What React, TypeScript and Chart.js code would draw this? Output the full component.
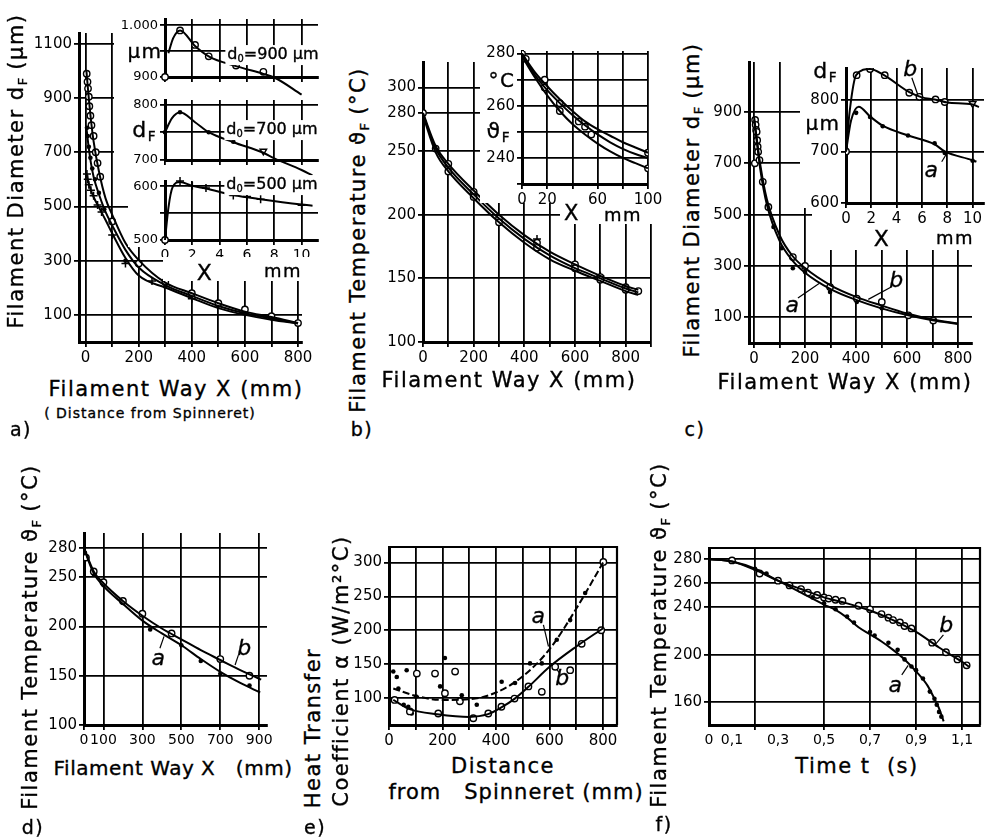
import React, { useEffect, useRef } from 'react';
import { Chart, registerables } from 'chart.js';

Chart.register(...registerables);

type P = [number, number];
const FONT = '"DejaVu Sans", "Liberation Sans", sans-serif';

/* ================= DATA ================= */
/* a) main: filament diameter vs way */
const aGridX = [0, 100, 200, 300, 400, 500, 600, 700, 800];
const aLabelX = [0, 200, 400, 600, 800];
const aGridY = [100, 300, 500, 700, 900, 1100];
const aLabelY = [100, 300, 500, 700, 900, 1100];
const aCurve900: P[] = [[3, 1000], [10, 920], [20, 820], [30, 740], [50, 630], [75, 530], [100, 470], [150, 365], [200, 302], [300, 219], [400, 180], [500, 143], [600, 112], [700, 92], [800, 70]];
const aCurve700: P[] = [[3, 790], [10, 730], [20, 660], [30, 610], [50, 545], [75, 480], [100, 430], [150, 340], [200, 275], [300, 210], [400, 170], [500, 133], [600, 106], [700, 87], [800, 69]];
const aCurve500: P[] = [[3, 620], [10, 590], [20, 560], [30, 535], [50, 497], [75, 450], [100, 401], [150, 310], [200, 245], [300, 201], [400, 162], [500, 125], [600, 100], [700, 82], [800, 68]];
const aPts900: P[] = [[4, 990], [7, 960], [9, 935], [12, 905], [14, 870], [18, 835], [22, 800], [30, 760], [38, 700], [45, 660], [55, 610], [100, 445], [200, 290], [300, 222], [400, 180], [500, 143], [600, 120], [700, 95], [800, 70]];
const aPts700: P[] = [[5, 790], [8, 760], [12, 720], [18, 680], [25, 640], [35, 600], [50, 550], [70, 490], [150, 300], [300, 205], [500, 135], [700, 88]];
const aPts500: P[] = [[5, 620], [8, 600], [12, 580], [20, 560], [30, 540], [45, 505], [60, 480], [100, 395], [150, 290], [250, 225], [400, 160], [600, 105]];

/* a) inset: three sub-plots, X in mm */
const aiGridX = [0, 2, 4, 6, 8, 10];
const aiLabelX = [0, 2, 4, 6, 8, 10];
const ai900Grid = [900, 950, 1000];
const ai900Label = [900, 1000];
const ai900Curve: P[] = [[0.25, 946], [0.6, 975], [1.1, 990], [2.2, 960], [3.2, 940], [5.2, 921], [7.2, 906], [8, 899], [10, 866]];
const ai900Pts: P[] = [[0, 900], [1.1, 990], [2.2, 962], [3.2, 940], [5.2, 922], [7.2, 910]];
const ai900Tri: P[] = [[10, 866]];
const ai700Grid = [700, 750, 800];
const ai700Label = [700, 800];
const ai700Curve: P[] = [[0, 750], [0.5, 775], [1.1, 786], [2.2, 768], [3.2, 750], [5, 732], [7.2, 713], [8, 703], [10, 682], [10.8, 672]];
const ai700Pts: P[] = [[0, 750], [1.1, 786], [3.2, 750], [5, 733], [10, 680]];
const ai700Tri: P[] = [[7.2, 716]];
const ai500Grid = [500, 550, 600];
const ai500Label = [500, 600];
const ai500Curve: P[] = [[0, 500], [0.25, 560], [0.55, 598], [1.1, 608], [2, 601], [3, 596], [5, 584], [7, 576], [10, 566], [10.8, 564]];
const ai500Pts: P[] = [[1.1, 610], [2, 601], [3, 597], [5, 583], [6, 581], [7, 576], [10, 565]];
const ai500Open: P[] = [[0, 500]];

/* b) main: filament temperature vs way */
const bGridX = [0, 100, 200, 300, 400, 500, 600, 700, 800, 900];
const bLabelX = [0, 200, 400, 600, 800];
const bGridY = [100, 150, 200, 250, 280, 300];
const bLabelY = [100, 150, 200, 250, 280, 300];
const bCurveU: P[] = [[0, 280], [50, 254], [100, 240], [200, 219], [300, 200], [400, 184], [500, 171], [600, 161], [700, 152], [800, 144], [850, 141]];
const bCurveM: P[] = [[0, 279], [50, 252], [100, 237], [200, 216], [300, 197], [400, 181], [500, 168], [600, 158], [700, 150], [800, 142], [850, 139]];
const bCurveL: P[] = [[0, 278], [50, 249], [100, 234], [200, 213], [300, 194], [400, 178], [500, 165], [600, 156], [700, 148], [800, 140], [850, 137]];
const bPts: P[] = [[0, 280], [50, 252], [100, 240], [100, 234], [200, 218], [200, 214], [300, 197], [300, 194], [450, 178], [450, 174], [600, 161], [600, 158], [700, 151], [700, 149], [800, 143], [800, 141], [850, 140]];
const bPlus: P[] = [[450, 181], [700, 152]];

/* b) inset */
const biGridX = [0, 20, 40, 60, 80, 100];
const biLabelX = [0, 20, 60, 100];
const biGridY = [230, 240, 250, 260, 270, 280];
const biLabelY = [240, 260, 280];
const biCurveU: P[] = [[0, 280], [10, 273], [20, 267.5], [30, 262.5], [40, 258], [50, 254], [60, 251], [70, 248.5], [80, 246], [90, 244], [100, 242]];
const biCurveM: P[] = [[0, 280], [10, 272], [20, 266], [30, 261], [40, 256.5], [50, 252.5], [60, 249], [70, 246], [80, 243.5], [90, 241.5], [100, 240]];
const biCurveL: P[] = [[0, 279], [10, 271], [20, 264], [30, 258], [40, 253], [50, 249], [60, 245.5], [70, 242.5], [80, 240], [90, 238], [100, 236]];
const biPts: P[] = [[0, 280], [3, 278], [18, 270], [18, 267], [30, 261], [30, 258], [45, 254], [50, 252], [55, 249], [100, 242], [100, 236]];

/* c) main */
const cGridX = [0, 100, 200, 300, 400, 500, 600, 700, 800];
const cLabelX = [0, 200, 400, 600, 800];
const cGridY = [100, 300, 500, 700, 900];
const cLabelY = [100, 300, 500, 700, 900];
const cCurveB: P[] = [[0, 880], [5, 840], [10, 800], [25, 690], [50, 560], [100, 420], [150, 340], [200, 292], [300, 225], [400, 180], [500, 146], [600, 115], [700, 92], [800, 76]];
const cCurveA: P[] = [[0, 870], [5, 830], [10, 790], [25, 672], [50, 540], [100, 398], [150, 322], [200, 274], [300, 210], [400, 168], [500, 135], [600, 109], [700, 89], [800, 74]];
const cPtsB: P[] = [[3, 700], [4, 869], [6, 850], [8, 830], [10, 823], [12, 790], [14, 765], [16, 745], [21, 713], [34, 628], [56, 530], [152, 335], [200, 300], [298, 218], [403, 173], [501, 160], [605, 108], [703, 88]];
const cPtsA: P[] = [[76, 452], [108, 369], [152, 291], [200, 277], [298, 199], [403, 160], [501, 135]];
const cLeaderA: P[] = [[172, 175], [255, 232]];
const cLeaderB: P[] = [[540, 219], [448, 170]];

/* c) inset */
const ciGridX = [0, 2, 4, 6, 8, 10];
const ciLabelX = [0, 2, 4, 6, 8, 10];
const ciGridY = [600, 700, 800];
const ciLabelY = [600, 700, 800];
const ciCurveB: P[] = [[0, 700], [0.3, 780], [0.8, 848], [1.9, 860], [3, 848], [5, 815], [6, 805], [7, 801], [8, 795], [10, 791], [10.5, 786]];
const ciCurveA: P[] = [[0, 700], [0.4, 760], [1, 787], [1.9, 768], [2.9, 750], [4.9, 731], [7, 714], [7.8, 700], [10, 683], [10.3, 680]];
const ciPtsB: P[] = [[0.84, 848], [1.9, 860], [3.06, 848], [5, 814], [5.8, 806], [7.07, 801], [7.8, 796]];
const ciTriB: P[] = [[10, 793]];
const ciPtsA: P[] = [[0.8, 775], [1.9, 767], [2.9, 749], [4.9, 731], [7, 716], [7.8, 697], [10, 682]];
const ciOpen: P[] = [[0, 700]];
const ciLeaderB: P[] = [[5.2, 843], [5.67, 810]];
const ciLeaderA: P[] = [[7.56, 680], [8.03, 699]];

/* d) */
const dGridX = [0, 100, 300, 500, 700, 900];
const dLabelX = [0, 100, 300, 500, 700, 900];
const dGridY = [100, 150, 200, 250, 280];
const dLabelY = [100, 150, 200, 250, 280];
const dCurveB: P[] = [[0, 280], [50, 256], [100, 244], [200, 226], [300, 211], [400, 198], [500, 187], [600, 176], [700, 166], [800, 156], [910, 146]];
const dCurveA: P[] = [[0, 279], [50, 254], [100, 241], [200, 223], [300, 206], [400, 193], [500, 181], [600, 167], [700, 154], [800, 143], [905, 133]];
const dPtsB: P[] = [[10, 270], [50, 256], [100, 245], [200, 226], [300, 213], [450, 193], [700, 167], [850, 150]];
const dPtsA: P[] = [[5, 275], [50, 253], [100, 242], [200, 224], [340, 197], [500, 181], [600, 165], [700, 152], [850, 140]];
const dLeaderA: P[] = [[390, 178], [411, 190]];
const dLeaderB: P[] = [[793, 171], [776, 161]];

/* e) heat transfer coefficient */
const eGridX = [0, 100, 200, 300, 400, 500, 600, 700, 800];
const eLabelX = [0, 200, 400, 600, 800];
const eGridY = [100, 150, 200, 250, 300];
const eLabelY = [100, 150, 200, 250, 300];
const eCurveA: P[] = [[16, 114], [100, 103], [200, 97], [300, 98], [400, 108], [500, 132], [600, 172], [700, 232], [800, 300]];
const eCurveB: P[] = [[16, 97], [80, 83], [180, 76], [300, 72], [370, 76], [420, 86], [470, 99], [520, 116], [600, 146], [700, 176], [800, 203]];
const eDotsA: P[] = [[35, 114], [101, 102], [272, 104], [328, 90], [421, 124], [471, 122], [527, 151], [571, 151], [627, 186], [677, 215], [733, 255]];
const eOpenB: P[] = [[21, 97], [78, 80], [184, 77], [265, 95], [315, 70], [371, 77], [420, 87], [469, 99], [521, 117], [621, 146], [720, 180], [793, 200], [677, 141], [571, 109], [801, 301]];
const eScatterDots: P[] = [[16, 139], [29, 131], [66, 141], [209, 159], [191, 117], [72, 87], [85, 77], [55, 90]];
const eScatterOpen: P[] = [[104, 136], [172, 136], [209, 107], [247, 139]];
const eLeaderA: P[] = [[577, 208], [596, 176]];
const eLeaderB: P[] = [[639, 136], [620, 146]];

/* f) temperature vs time */
const fGridX = [0.2, 0.5, 0.7, 0.9, 1.1];
const fLabelX = [0, 0.1, 0.3, 0.5, 0.7, 0.9, 1.1];
const fGridY = [160, 200, 240, 260, 280];
const fLabelY = [160, 200, 240, 260, 280];
const fCurveB: P[] = [[0, 280], [0.1, 278], [0.2, 271], [0.3, 262], [0.4, 255], [0.5, 248], [0.6, 243], [0.7, 237], [0.8, 229], [0.9, 219], [1.0, 206], [1.1, 194], [1.13, 190]];
const fCurveA: P[] = [[0, 280], [0.1, 278], [0.2, 272], [0.3, 262], [0.4, 252], [0.5, 242], [0.55, 237.5], [0.6, 231], [0.65, 223], [0.7, 217], [0.75, 211], [0.8, 204], [0.85, 196], [0.9, 186], [0.95, 174], [0.98, 163], [1.0, 155], [1.02, 144]];
const fPtsB: P[] = [[0.1, 279], [0.22, 268], [0.3, 262], [0.35, 258], [0.4, 255], [0.43, 252], [0.47, 250], [0.5, 248], [0.52, 247], [0.55, 246], [0.58, 245], [0.65, 241], [0.7, 238], [0.75, 234], [0.78, 231], [0.8, 229], [0.83, 227], [0.85, 224], [0.88, 222], [0.97, 210], [1.03, 202], [1.08, 196], [1.12, 191]];
const fPtsA: P[] = [[0.1, 278], [0.2, 272], [0.25, 268], [0.3, 262], [0.45, 248], [0.5, 243], [0.55, 238], [0.6, 232], [0.63, 227], [0.7, 219], [0.72, 216], [0.78, 210], [0.82, 204], [0.85, 196], [0.88, 190], [0.9, 187], [0.93, 180], [0.96, 169], [0.98, 163], [0.99, 158], [1.0, 152], [1.01, 148]];
const fLeaderB: P[] = [[1.019, 216.5], [0.986, 209]];
const fLeaderA: P[] = [[0.838, 183], [0.866, 191]];

/* ================= CHART HELPERS ================= */
type Axis = { min: number; max: number; grid: number[]; labels: number[]; fmt?: (v: number) => string; size?: number };
type Mark = 'open' | 'dot' | 'cross' | 'tri' | 'triDown';
type Layer = { data: P[]; line?: boolean; mark?: Mark; dash?: number[]; width?: number; leader?: boolean };
type Spec = { l: number; t: number; r: number; b: number; yw: number; xh: number; x: Axis; y: Axis; layers: Layer[]; frame?: boolean; noClip?: boolean };

const PAD_T = 12;
const PAD_R = 22;

const framePlugin = {
  id: 'frame',
  afterDatasetsDraw(chart: any, _args: any, opts: any) {
    if (!opts || !opts.on) return;
    const { ctx, chartArea: a } = chart;
    ctx.save();
    ctx.strokeStyle = '#000';
    ctx.lineWidth = 2.2;
    ctx.beginPath();
    ctx.moveTo(a.left, a.top);
    ctx.lineTo(a.right, a.top);
    ctx.lineTo(a.right, a.bottom);
    ctx.stroke();
    ctx.restore();
  },
};

function axisOpts(a: Axis, horizontal: boolean, fixed: number) {
  const gridSet = new Set(a.grid);
  const labSet = new Set(a.labels);
  const vals = Array.from(new Set([...a.grid, ...a.labels])).sort((p, q) => p - q);
  return {
    type: 'linear',
    position: horizontal ? 'bottom' : 'left',
    min: a.min,
    max: a.max,
    afterBuildTicks: (s: any) => {
      s.ticks = vals.map((v) => ({ value: v }));
    },
    afterFit: (s: any) => {
      if (horizontal) s.height = fixed;
      else s.width = fixed;
    },
    grid: {
      color: (c: any) => (c.tick && gridSet.has(c.tick.value) ? '#000' : 'rgba(0,0,0,0)'),
      lineWidth: 1.8,
      tickLength: 5,
      drawTicks: true,
    },
    border: { display: true, color: '#000', width: 3 },
    ticks: {
      color: '#000',
      font: { family: FONT, size: a.size ?? 15 },
      padding: 2,
      autoSkip: false,
      maxRotation: 0,
      minRotation: 0,
      callback: (v: any) => (labSet.has(v) ? (a.fmt ? a.fmt(v) : String(v)) : ''),
    },
  };
}

function layerDataset(l: Layer, noClip?: boolean) {
  const base: any = { data: l.data.map(([x, y]) => ({ x, y })), borderColor: '#000', backgroundColor: '#000' };
  if (noClip) base.clip = false;
  if (l.line || l.leader) {
    return {
      ...base,
      showLine: true,
      borderWidth: l.leader ? 1.2 : l.width ?? 2,
      pointRadius: 0,
      cubicInterpolationMode: l.leader ? 'default' : 'monotone',
      tension: l.leader ? 0 : 0.4,
      borderDash: l.dash ?? [],
    };
  }
  const m = l.mark ?? 'open';
  const mk: any = { showLine: false, pointBorderColor: '#000' };
  if (m === 'open') Object.assign(mk, { pointStyle: 'circle', pointRadius: 3.2, pointBackgroundColor: '#fff', pointBorderWidth: 1.4 });
  if (m === 'dot') Object.assign(mk, { pointStyle: 'circle', pointRadius: 2.3, pointBackgroundColor: '#000', pointBorderWidth: 0 });
  if (m === 'cross') Object.assign(mk, { pointStyle: 'cross', pointRadius: 4, pointBorderWidth: 1.5 });
  if (m === 'tri') Object.assign(mk, { pointStyle: 'triangle', pointRadius: 3.8, pointBackgroundColor: '#fff', pointBorderWidth: 1.4 });
  if (m === 'triDown') Object.assign(mk, { pointStyle: 'triangle', pointRotation: 180, pointRadius: 3.8, pointBackgroundColor: '#fff', pointBorderWidth: 1.4 });
  return { ...base, ...mk };
}

function Plot({ spec }: { spec: Spec }) {
  const ref = useRef<HTMLCanvasElement | null>(null);
  const w = Math.round(spec.r - spec.l + spec.yw + PAD_R);
  const h = Math.round(spec.b - spec.t + PAD_T + spec.xh);
  useEffect(() => {
    const chart = new Chart(ref.current as HTMLCanvasElement, {
      type: 'scatter',
      data: { datasets: spec.layers.map((l) => layerDataset(l, spec.noClip)) as any },
      options: {
        animation: false,
        responsive: false,
        devicePixelRatio: 1,
        events: [],
        layout: { padding: { top: PAD_T, right: PAD_R, left: 0, bottom: 0 } },
        plugins: { legend: { display: false }, tooltip: { enabled: false }, frame: { on: !!spec.frame } } as any,
        scales: { x: axisOpts(spec.x, true, spec.xh), y: axisOpts(spec.y, false, spec.yw) } as any,
      },
      plugins: [framePlugin as any],
    });
    return () => chart.destroy();
  }, []);
  return (
    <canvas
      ref={ref}
      width={w}
      height={h}
      style={{ position: 'absolute', left: Math.round(spec.l - spec.yw), top: Math.round(spec.t - PAD_T), width: w, height: h }}
    />
  );
}

/* ================= TEXT HELPERS ================= */
function T(props: { x: number; y: number; size?: number; rot?: boolean; it?: boolean; bg?: boolean; ls?: number; children: React.ReactNode }) {
  const { x, y, size = 21, rot, it, bg, ls = 1.5, children } = props;
  return (
    <div
      style={{
        position: 'absolute',
        left: x,
        top: y,
        transform: `translate(-50%,-50%)${rot ? ' rotate(-90deg)' : ''}`,
        fontFamily: FONT,
        fontSize: size,
        letterSpacing: ls,
        whiteSpace: 'pre',
        lineHeight: 1.1,
        fontStyle: it ? 'italic' : 'normal',
        background: bg ? '#fff' : 'transparent',
        padding: bg ? '0 2px' : 0,
        color: '#000',
        WebkitTextStroke: '0.35px #000',
      }}
    >
      {children}
    </div>
  );
}
const Sub = ({ children }: { children: React.ReactNode }) => (
  <span style={{ fontSize: '0.62em', verticalAlign: '-0.3em', letterSpacing: 0 }}>{children}</span>
);
const Box = ({ l, t, r, b }: { l: number; t: number; r: number; b: number }) => (
  <div style={{ position: 'absolute', left: l, top: t, width: r - l, height: b - t, background: '#fff' }} />
);

/* ================= SPECS ================= */
const specA: Spec = {
  l: 79, t: 33, r: 302, b: 342, yw: 60, xh: 30,
  x: { min: -25, max: 815, grid: aGridX, labels: aLabelX },
  y: { min: 0, max: 1140, grid: aGridY, labels: aLabelY },
  layers: [
    { data: aCurve900, line: true }, { data: aCurve700, line: true }, { data: aCurve500, line: true },
    { data: aPts900, mark: 'open' }, { data: aPts700, mark: 'dot' }, { data: aPts500, mark: 'cross' },
  ],
};
const fmt1000 = (v: number) => (v === 1000 ? '1.000' : String(v));
const specAi900: Spec = {
  l: 165, t: 19, r: 318, b: 77, yw: 51, xh: 23, noClip: true,
  x: { min: 0, max: 11.2, grid: aiGridX, labels: [] },
  y: { min: 900, max: 1012, grid: ai900Grid, labels: ai900Label, fmt: fmt1000, size: 13 },
  layers: [{ data: ai900Curve, line: true }, { data: ai900Pts, mark: 'open' }, { data: ai900Tri, mark: 'triDown' }],
};
const specAi700: Spec = {
  l: 165, t: 100, r: 318, b: 160, yw: 51, xh: 20, noClip: true,
  x: { min: 0, max: 11.2, grid: aiGridX, labels: [] },
  y: { min: 700, max: 808, grid: ai700Grid, labels: ai700Label, size: 13 },
  layers: [{ data: ai700Curve, line: true }, { data: ai700Pts, mark: 'dot' }, { data: ai700Tri, mark: 'triDown' }],
};
const specAi500: Spec = {
  l: 165, t: 181, r: 318, b: 240, yw: 51, xh: 17, noClip: true,
  x: { min: 0, max: 11.2, grid: aiGridX, labels: aiLabelX, size: 14 },
  y: { min: 500, max: 610, grid: ai500Grid, labels: ai500Label, size: 13 },
  layers: [{ data: ai500Curve, line: true }, { data: ai500Pts, mark: 'cross' }, { data: ai500Open, mark: 'open' }],
};
const specB: Spec = {
  l: 423, t: 62, r: 651, b: 342, yw: 48, xh: 28,
  x: { min: 0, max: 900, grid: bGridX, labels: bLabelX },
  y: { min: 100, max: 320, grid: bGridY, labels: bLabelY },
  layers: [
    { data: bCurveU, line: true }, { data: bCurveM, line: true }, { data: bCurveL, line: true },
    { data: bPts, mark: 'open' }, { data: bPlus, mark: 'cross' },
  ],
};
const specBi: Spec = {
  l: 522, t: 51, r: 648, b: 184, yw: 40, xh: 20,
  x: { min: 0, max: 100, grid: biGridX, labels: biLabelX },
  y: { min: 230, max: 281, grid: biGridY, labels: biLabelY },
  layers: [{ data: biCurveU, line: true }, { data: biCurveM, line: true }, { data: biCurveL, line: true }, { data: biPts, mark: 'open' }],
};
const specC: Spec = {
  l: 749, t: 62, r: 972, b: 343, yw: 37, xh: 28,
  x: { min: -20, max: 855, grid: cGridX, labels: cLabelX },
  y: { min: 0, max: 1095, grid: cGridY, labels: cLabelY },
  layers: [
    { data: cCurveB, line: true }, { data: cCurveA, line: true },
    { data: cPtsB, mark: 'open' }, { data: cPtsA, mark: 'dot' },
    { data: cLeaderA, leader: true }, { data: cLeaderB, leader: true },
  ],
};
const specCi: Spec = {
  l: 846, t: 68, r: 984, b: 203, yw: 40, xh: 20,
  x: { min: 0, max: 10.9, grid: ciGridX, labels: ciLabelX },
  y: { min: 600, max: 862, grid: ciGridY, labels: ciLabelY },
  layers: [
    { data: ciCurveB, line: true }, { data: ciCurveA, line: true },
    { data: ciPtsB, mark: 'open' }, { data: ciTriB, mark: 'triDown' }, { data: ciPtsA, mark: 'dot' }, { data: ciOpen, mark: 'open' },
    { data: ciLeaderB, leader: true }, { data: ciLeaderA, leader: true },
  ],
};
const specD: Spec = {
  l: 84, t: 533, r: 267, b: 725, yw: 40, xh: 25,
  x: { min: 0, max: 940, grid: dGridX, labels: dLabelX, size: 14 },
  y: { min: 100, max: 295, grid: dGridY, labels: dLabelY },
  layers: [
    { data: dCurveB, line: true }, { data: dCurveA, line: true },
    { data: dPtsB, mark: 'open' }, { data: dPtsA, mark: 'dot' },
    { data: dLeaderA, leader: true }, { data: dLeaderB, leader: true },
  ],
};
const specE: Spec = {
  l: 389, t: 547, r: 617, b: 725, yw: 36, xh: 26, frame: true,
  x: { min: 0, max: 852, grid: eGridX, labels: eLabelX },
  y: { min: 60, max: 323, grid: eGridY, labels: eLabelY },
  layers: [
    { data: eCurveA, line: true, dash: [7, 3] }, { data: eCurveB, line: true },
    { data: eDotsA, mark: 'dot' }, { data: eOpenB, mark: 'open' },
    { data: eScatterDots, mark: 'dot' }, { data: eScatterOpen, mark: 'open' },
    { data: eLeaderA, leader: true }, { data: eLeaderB, leader: true },
  ],
};
const fmtComma = (v: number) => (v === 0 ? '0' : String(v).replace('.', ','));
const specF: Spec = {
  l: 709, t: 548, r: 980, b: 725, yw: 39, xh: 26, frame: true,
  x: { min: 0, max: 1.178, grid: fGridX, labels: fLabelX, fmt: fmtComma, size: 14 },
  y: { min: 141, max: 289.4, grid: fGridY, labels: fLabelY },
  layers: [
    { data: fCurveB, line: true }, { data: fCurveA, line: true },
    { data: fPtsB, mark: 'open' }, { data: fPtsA, mark: 'dot' },
    { data: fLeaderB, leader: true }, { data: fLeaderA, leader: true },
  ],
};

/* ================= APP ================= */
export default function App() {
  return (
    <div style={{ position: 'absolute', left: 0, top: 0, width: 990, height: 840, background: '#fff', overflow: 'hidden' }}>
      <Plot spec={specA} />
      <Plot spec={specB} />
      <Plot spec={specC} />
      <Plot spec={specD} />
      <Plot spec={specE} />
      <Plot spec={specF} />

      {/* white inset backgrounds */}
      <Box l={114} t={12} r={322} b={200} />
      <Box l={128} t={200} r={163} b={247} />
      <Box l={163} t={200} r={322} b={281} />
      <Box l={480} t={38} r={652} b={203} />
      <Box l={560} t={203} r={652} b={224} />
      <Box l={800} t={55} r={990} b={208} />
      <Box l={812} t={208} r={990} b={250} />

      <Plot spec={specAi900} />
      <Plot spec={specAi700} />
      <Plot spec={specAi500} />
      <Plot spec={specBi} />
      <Plot spec={specCi} />

      {/* a) */}
      <T x={18} y={171} rot>Filament Diameter d<Sub>F</Sub> (µm)</T>
      <T x={176} y={390}>Filament Way X (mm)</T>
      <T x={150} y={414} size={14} ls={1}>( Distance from Spinneret)</T>
      <T x={21} y={429} size={19}>a)</T>
      <T x={145} y={51} size={20}>µm</T>
      <T x={144} y={131} size={22}>d<Sub>F</Sub></T>
      <T x={273} y={55} size={16} ls={0} bg>d<Sub>0</Sub>=900 µm</T>
      <T x={272} y={130} size={16} ls={0} bg>d<Sub>0</Sub>=700 µm</T>
      <T x={272} y={185} size={16} ls={0} bg>d<Sub>0</Sub>=500 µm</T>
      <T x={205} y={273} size={22}>X</T>
      <T x={283} y={271} size={18}>mm</T>

      {/* b) */}
      <T x={360} y={240} rot>Filament Temperature ϑ<Sub>F</Sub> (°C)</T>
      <T x={509} y={381}>Filament Way X (mm)</T>
      <T x={362} y={429} size={19}>b)</T>
      <T x={502} y={80} size={20}>°C</T>
      <T x={498} y={132} size={22}>ϑ<Sub>F</Sub></T>
      <T x={572} y={214} size={21}>X</T>
      <T x={623} y={215} size={18}>mm</T>

      {/* c) */}
      <T x={694} y={200} rot>Filament Diameter d<Sub>F</Sub> (µm)</T>
      <T x={845} y={383}>Filament Way X (mm)</T>
      <T x={695} y={429} size={19}>c)</T>
      <T x={825} y={72} size={22}>d<Sub>F</Sub></T>
      <T x={823} y={123} size={20}>µm</T>
      <T x={882} y={239} size={22}>X</T>
      <T x={955} y={238} size={18}>mm</T>
      <T x={911} y={69} size={22} it>b</T>
      <T x={932} y={170} size={22} it>a</T>
      <T x={793} y={305} size={22} it>a</T>
      <T x={897} y={280} size={22} it>b</T>

      {/* d) */}
      <T x={32} y={637} rot>Filament Temperature ϑ<Sub>F</Sub> (°C)</T>
      <T x={173} y={768} size={20} ls={0.5}>{'Filament Way X   (mm)'}</T>
      <T x={33} y={827} size={19}>d)</T>
      <T x={159} y={658} size={22} it>a</T>
      <T x={245} y={648} size={22} it>b</T>

      {/* e) */}
      <T x={314} y={728} rot>Heat Transfer</T>
      <T x={342} y={671} rot>Coefficient α (W/m²°C)</T>
      <T x={503} y={767}>Distance</T>
      <T x={516} y={793} ls={1}>{'from   Spinneret (mm)'}</T>
      <T x={315} y={827} size={19}>e)</T>
      <T x={539} y={616} size={22} it>a</T>
      <T x={563} y={678} size={22} it>b</T>

      {/* f) */}
      <T x={661} y={635} rot>Filament Temperature ϑ<Sub>F</Sub> (°C)</T>
      <T x={857} y={767}>{'Time t  (s)'}</T>
      <T x={664} y={824} size={19}>f)</T>
      <T x={947} y={625} size={22} it>b</T>
      <T x={896} y={685} size={22} it>a</T>
    </div>
  );
}
